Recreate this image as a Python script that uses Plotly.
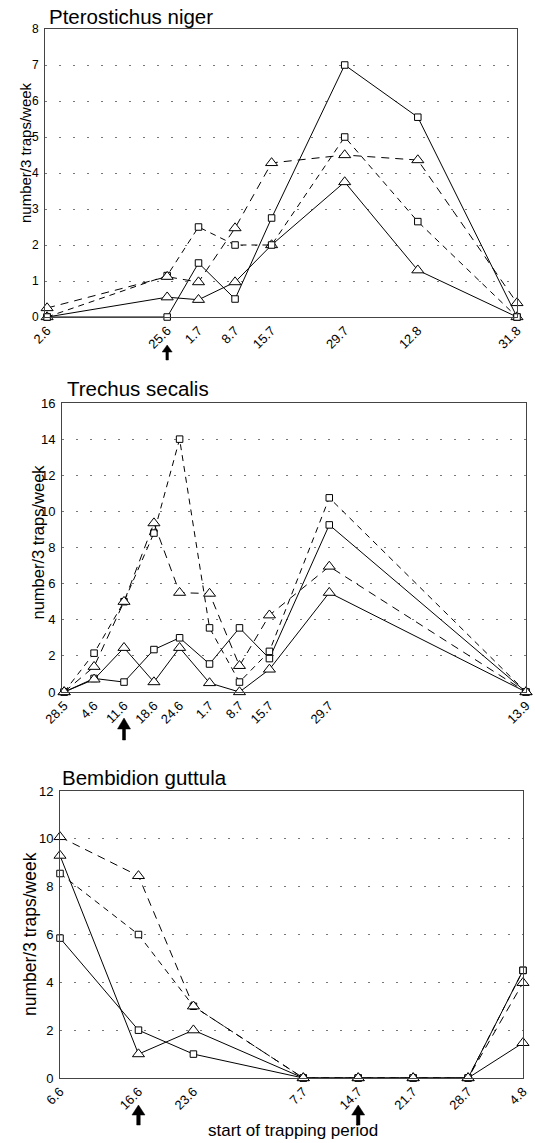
import datetime
import plotly.graph_objects as go

W, H = 535, 1143

# ---------------- data ----------------
YEAR = 1999

top_title = "Pterostichus niger"
top_labels = ["2.6", "25.6", "1.7", "8.7", "15.7", "29.7", "12.8", "31.8"]
top_sq_solid = [0, 0, 1.5, 0.5, 2.75, 7.0, 5.55, 0]
top_tri_solid = [0, 0.55, 0.48, 0.97, 2.0, 3.75, 1.3, 0]
top_sq_dash = [0, 1.15, 2.5, 2.0, 2.0, 5.0, 2.65, 0]
top_tri_dash = [0.25, 1.12, 0.97, 2.47, 4.28, 4.5, 4.36, 0.39]
top_arrows = ["25.6"]

mid_title = "Trechus secalis"
mid_labels = ["28.5", "4.6", "11.6", "18.6", "24.6", "1.7", "8.7", "15.7", "29.7", "13.9"]
mid_sq_solid = [0, 0.75, 0.55, 2.35, 3.0, 1.55, 3.55, 1.85, 9.25, 0]
mid_tri_solid = [0, 0.7, 2.45, 0.55, 2.45, 0.5, 0, 1.25, 5.5, 0]
mid_sq_dash = [0, 2.15, 5.0, 8.8, 14.0, 3.55, 0.55, 2.25, 10.75, 0]
mid_tri_dash = [0, 1.4, 5.0, 9.35, 5.5, 5.45, 1.45, 4.25, 6.95, 0]
mid_arrows = ["11.6"]

bot_title = "Bembidion guttula"
bot_labels = ["6.6", "16.6", "23.6", "7.7", "14.7", "21.7", "28.7", "4.8"]
bot_sq_solid = [5.85, 2.0, 1.0, 0, 0, 0, 0, 4.5]
bot_tri_solid = [9.3, 1.0, 2.0, 0, 0, 0, 0, 1.47]
bot_sq_dash = [8.55, 6.0, 3.0, 0, 0, 0, 0, 4.5]
bot_tri_dash = [10.08, 8.45, 3.0, 0, 0, 0, 0, 3.98]
bot_arrows = ["16.6", "14.7"]

y_title = "number/3 traps/week"
x_title = "start of trapping period"


def day(label):
    d, m = label.split(".")
    return datetime.date(YEAR, int(m), int(d)).toordinal()


def xp(px):
    return px / W


def yp(py):
    return 1 - py / H


FONT = "Liberation Sans, Arial, Helvetica, sans-serif"

panels = [
    dict(title=top_title, labels=top_labels, sq_s=top_sq_solid, tri_s=top_tri_solid,
         sq_d=top_sq_dash, tri_d=top_tri_dash, arrows=top_arrows,
         ymax=8, dtick=1, box=(45, 29, 517, 317), lpad=0.4,
         tfont=12, xfont=13, title_xy=(47, 3), ytitle_xy=(26, 153), ytfont=15,
         arrow=dict(tip=28, length=15, hw=5, hh=7, sw=2.5)),
    dict(title=mid_title, labels=mid_labels, sq_s=mid_sq_solid, tri_s=mid_tri_solid,
         sq_d=mid_sq_dash, tri_d=mid_tri_dash, arrows=mid_arrows,
         ymax=16, dtick=2, box=(62, 403, 526, 692), lpad=0.5,
         tfont=13, xfont=13, title_xy=(65, 375), ytitle_xy=(37.5, 542), ytfont=16.5,
         arrow=dict(tip=26, length=22, hw=6.5, hh=11, sw=3)),
    dict(title=bot_title, labels=bot_labels, sq_s=bot_sq_solid, tri_s=bot_tri_solid,
         sq_d=bot_sq_dash, tri_d=bot_tri_dash, arrows=bot_arrows,
         ymax=12, dtick=2, box=(60, 791, 523, 1078), lpad=0.0,
         tfont=13, xfont=13, title_xy=(60, 764), ytitle_xy=(30, 934), ytfont=17.5,
         arrow=dict(tip=27, length=20, hw=6.5, hh=10, sw=3.5)),
]

fig = go.Figure()
annotations = []
shapes = []
layout = {}

for i, p in enumerate(panels, start=1):
    xa = "x" if i == 1 else f"x{i}"
    ya = "y" if i == 1 else f"y{i}"
    xs = [day(l) for l in p["labels"]]
    series = [
        (p["sq_s"], "square", "solid", 6.5),
        (p["tri_s"], "triangle-up", "solid", 10.5),
        (p["sq_d"], "square", "6px,5px", 6.5),
        (p["tri_d"], "triangle-up", "8px,6px", 10.5),
    ]
    for vals, sym, dash, msize in series:
        fig.add_trace(go.Scatter(
            x=xs, y=vals, xaxis=xa, yaxis=ya, mode="lines+markers",
            line=dict(color="black", width=1, dash=dash),
            marker=dict(symbol=sym, size=msize, color="white",
                        line=dict(color="black", width=1)),
            cliponaxis=False, showlegend=False, hoverinfo="skip"))
    l, t, r, b = p["box"]
    xkey = "xaxis" if i == 1 else f"xaxis{i}"
    ykey = "yaxis" if i == 1 else f"yaxis{i}"
    layout[xkey] = dict(
        domain=[xp(l), xp(r)], anchor=ya, range=[xs[0] - p["lpad"], xs[-1]],
        tickmode="array", tickvals=xs, ticktext=p["labels"], tickangle=-45,
        tickfont=dict(size=p["xfont"], color="black", family=FONT),
        showgrid=False, zeroline=False, showline=True, mirror=True,
        linecolor="#444", linewidth=1, ticks="", automargin=False)
    layout[ykey] = dict(
        domain=[yp(b), yp(t)], anchor=xa, range=[0, p["ymax"]], dtick=p["dtick"],
        tickfont=dict(size=p["tfont"], color="black", family=FONT),
        showgrid=True, gridcolor="#777", griddash="2px,12px", gridwidth=1,
        zeroline=False, showline=True, mirror=True, linecolor="#444", linewidth=1,
        ticks="", ticklabelstandoff=3, automargin=False)
    annotations.append(dict(
        text=p["title"], x=xp(p["title_xy"][0]), y=yp(p["title_xy"][1]),
        xref="paper", yref="paper", xanchor="left", yanchor="top", showarrow=False,
        font=dict(size=20.5, color="black", family=FONT)))
    annotations.append(dict(
        text=y_title, x=xp(p["ytitle_xy"][0]), y=yp(p["ytitle_xy"][1]),
        xref="paper", yref="paper", xanchor="center", yanchor="middle",
        textangle=-90, showarrow=False,
        font=dict(size=p["ytfont"], color="black", family=FONT)))
    a = p["arrow"]
    tip, ln, hw, hh, sw = a["tip"], a["length"], a["hw"], a["hh"], a["sw"]
    path = (f"M0,{-tip} L{hw},{-tip - hh} L{sw / 2},{-tip - hh} L{sw / 2},{-tip - ln} "
            f"L{-sw / 2},{-tip - ln} L{-sw / 2},{-tip - hh} L{-hw},{-tip - hh} Z")
    for lab in p["arrows"]:
        shapes.append(dict(
            type="path", xref=xa, yref=f"{ya} domain", xsizemode="pixel", ysizemode="pixel",
            xanchor=day(lab), yanchor=0, path=path,
            fillcolor="black", line=dict(color="black", width=0.5)))

annotations.append(dict(
    text=x_title, x=xp(293), y=yp(1142), xref="paper", yref="paper",
    xanchor="center", yanchor="bottom", showarrow=False,
    font=dict(size=17, color="black", family=FONT)))

fig.update_layout(
    width=W, height=H, margin=dict(l=0, r=0, t=0, b=0, autoexpand=False),
    paper_bgcolor="white", plot_bgcolor="white",
    annotations=annotations, shapes=shapes, **layout)

fig.write_html(
    "out.html",
    config={"displayModeBar": False, "staticPlot": True},
    post_script="document.body.style.margin='0';document.body.style.overflow='hidden';")
